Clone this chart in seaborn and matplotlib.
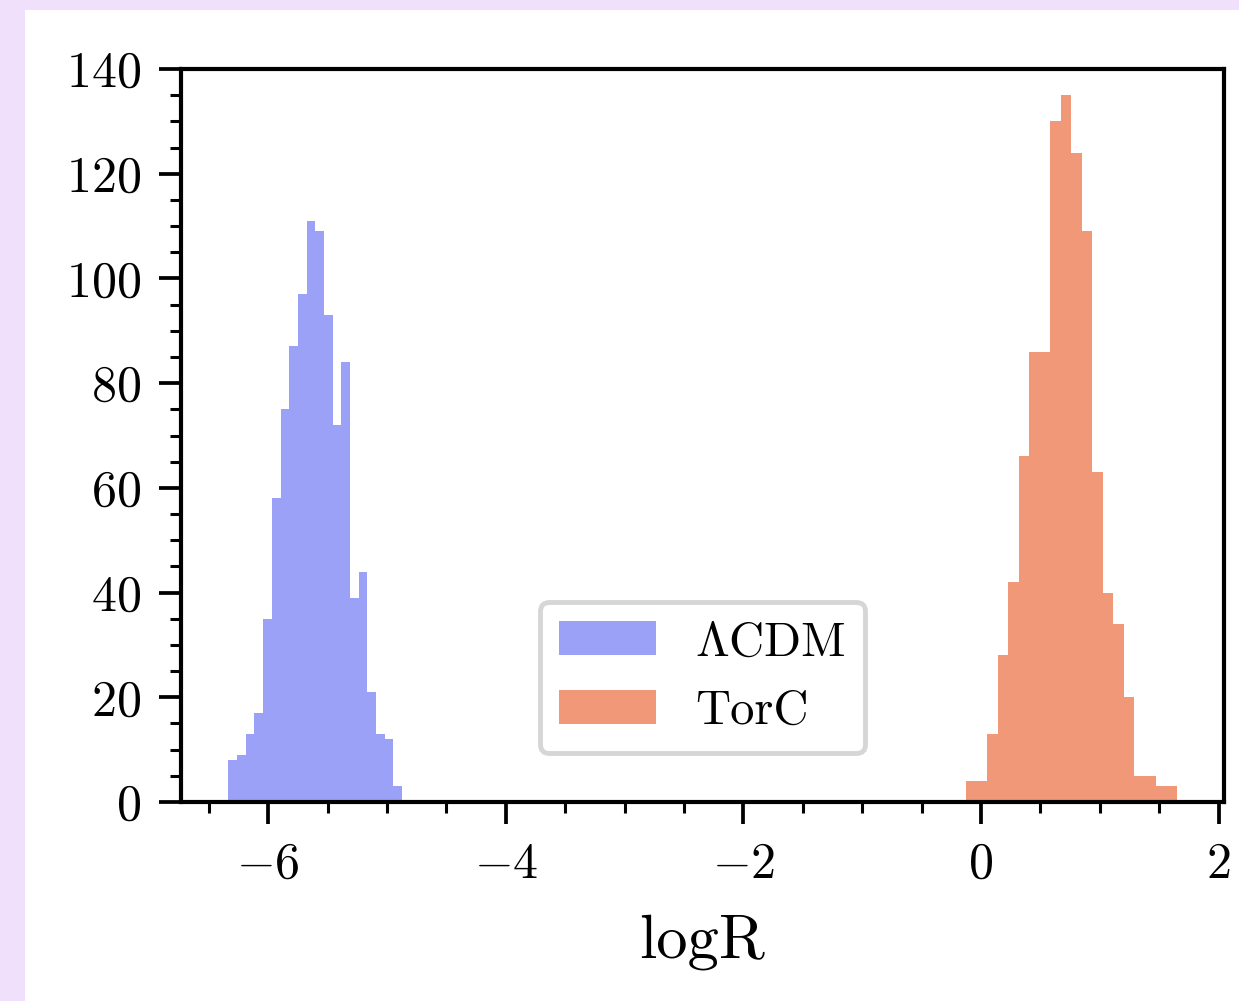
import numpy as np
import pandas as pd
import matplotlib
matplotlib.use("Agg")
import matplotlib.pyplot as plt
import seaborn as sns
from matplotlib.ticker import MultipleLocator
from matplotlib.patches import Rectangle

# Гистограммы logR (20 бинов, по 1000 отсчётов)
lcdm_range = (-6.336, -4.874)
lcdm_counts = [8, 9, 13, 17, 35, 58, 75, 87, 97, 111,
               109, 93, 72, 84, 39, 44, 21, 13, 12, 3]
torc_range = (-0.126, 1.647)
torc_counts = [4, 4, 13, 28, 42, 66, 86, 86, 130, 135,
               124, 109, 63, 40, 34, 20, 5, 5, 3, 3]
labels = [r'$\Lambda$CDM', 'TorC']
colors = ['#5862F2', '#E8531E']

sns.set_style('ticks')
plt.rcParams['font.family'] = 'serif'
plt.rcParams['font.serif'] = ['cmr10']
plt.rcParams['mathtext.fontset'] = 'cm'
plt.rcParams['axes.formatter.use_mathtext'] = True
plt.rcParams['axes.unicode_minus'] = True
plt.rcParams['text.color'] = 'black'
plt.rcParams['axes.labelcolor'] = 'black'
plt.rcParams['xtick.color'] = 'black'
plt.rcParams['ytick.color'] = 'black'
plt.rcParams['axes.edgecolor'] = 'black'

fig = plt.figure(figsize=(12.39, 10.01), dpi=100, facecolor='#F0E0FC')
fig.patches.append(Rectangle((25 / 1239, 0), 1, 1 - 10 / 1001, transform=fig.transFigure,
                             facecolor='white', edgecolor='none', zorder=-5))
ax = fig.add_axes([181 / 1239, 1 - 802 / 1001, (1224 - 181) / 1239, (802 - 69) / 1001])

for rng, counts, lab, col in zip([lcdm_range, torc_range], [lcdm_counts, torc_counts], labels, colors):
    edges = np.linspace(rng[0], rng[1], len(counts) + 1)
    df = pd.DataFrame({'logR': (edges[:-1] + edges[1:]) / 2, 'n': counts})
    sns.histplot(data=df, x='logR', weights='n', bins=len(counts), binrange=rng,
                 color=col, alpha=0.6, linewidth=0, label=lab, ax=ax)

ax.set_ylim(0, 140)
ax.set_ylabel('')
ax.set_xlabel('logR', fontsize=45, labelpad=19)
ax.xaxis.set_major_locator(MultipleLocator(2))
ax.xaxis.set_minor_locator(MultipleLocator(0.5))
ax.yaxis.set_major_locator(MultipleLocator(20))
ax.yaxis.set_minor_locator(MultipleLocator(5))
ax.tick_params(which='major', length=16, width=2.7, labelsize=36, pad=13)
ax.tick_params(which='minor', length=8, width=2.2)
for s in ax.spines.values():
    s.set_linewidth(3.0)
    s.set_visible(True)

leg = ax.legend(loc='lower center', fontsize=35, frameon=True, fancybox=True,
                handlelength=2.0, handletextpad=0.8, borderaxespad=1.0, framealpha=1)
leg.get_frame().set_edgecolor('#D6D6D6')
leg.get_frame().set_linewidth(3.5)

fig.savefig('out.png', dpi=100, facecolor=fig.get_facecolor())
